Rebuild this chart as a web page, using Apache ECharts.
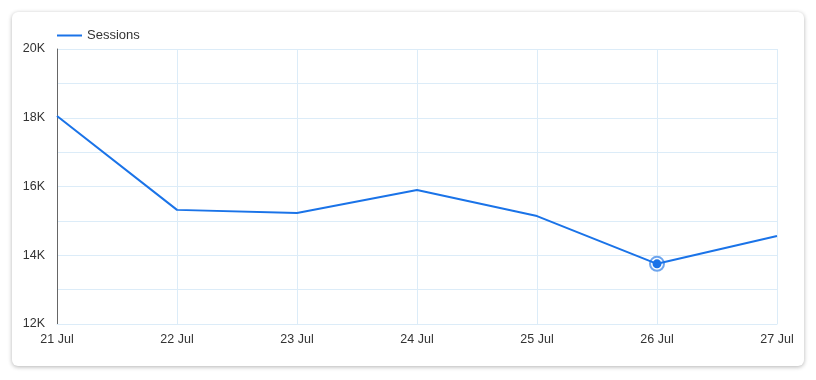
<!DOCTYPE html>
<html><head><meta charset="utf-8">
<script src="https://cdn.jsdelivr.net/npm/echarts@6/dist/echarts.min.js"></script>
<style>
html,body{margin:0;padding:0;background:#fff;}
#card{position:absolute;left:12px;top:12px;width:792px;height:354px;background:#fff;border-radius:6px;box-shadow:0 1px 4px rgba(0,0,0,0.3);}
#chart{width:792px;height:354px;}
</style></head>
<body><div id="card"><div id="chart"></div></div>
<script>
var categories = ['21 Jul','22 Jul','23 Jul','24 Jul','25 Jul','26 Jul','27 Jul'];
var sessions = [18050, 15320, 15230, 15900, 15140, 13750, 14560];
var highlightIndex = 5;
var yMin = 12000, yMax = 20000;

var chart = echarts.init(document.getElementById('chart'));
var lineData = sessions.map(function(v,i){
  if(i===highlightIndex){
    return {value:v, symbol:'circle', symbolSize:9, itemStyle:{color:'#1a73e8', borderColor:'#fff', borderWidth:0}};
  }
  return v;
});
var ringData = sessions.map(function(v,i){ return i===highlightIndex ? v : '-'; });
chart.setOption({
  animation:false,
  textStyle:{fontFamily:'Liberation Sans, Arial, sans-serif'},
  legend:{left:40,top:12,itemWidth:25,itemHeight:2,itemGap:8,icon:'rect',
    data:['Sessions'],textStyle:{fontSize:13,color:'#333'}},
  grid:{left:45,right:27,top:37,bottom:42},
  xAxis:{type:'category',data:categories,boundaryGap:false,
    axisLine:{show:true,lineStyle:{color:'#dcecf8'}},
    axisTick:{show:false},
    axisLabel:{color:'#333',fontSize:12.5,margin:9},
    splitLine:{show:true,lineStyle:{color:'#dcecf8',width:1}}},
  yAxis:{type:'value',min:yMin,max:yMax,interval:1000,
    axisLine:{show:true,lineStyle:{color:'#666'}},
    axisTick:{show:false},
    axisLabel:{color:'#333',fontSize:12.5,margin:12,
      formatter:function(v){ return (v%2000===0)? (v/1000)+'K' : ''; }},
    splitLine:{show:true,lineStyle:{color:'#dcecf8',width:1}}},
  series:[
    {name:'Sessions',type:'line',data:lineData,showSymbol:true,symbol:'none',
     lineStyle:{color:'#1a73e8',width:2},itemStyle:{color:'#1a73e8'},z:3},
    {name:'ring',type:'scatter',data:ringData,symbol:'emptyCircle',symbolSize:14,
     itemStyle:{color:'#4a8fe8',borderColor:'#4a8fe8',borderWidth:1},z:2,silent:true}
  ]
});
</script></body></html>
